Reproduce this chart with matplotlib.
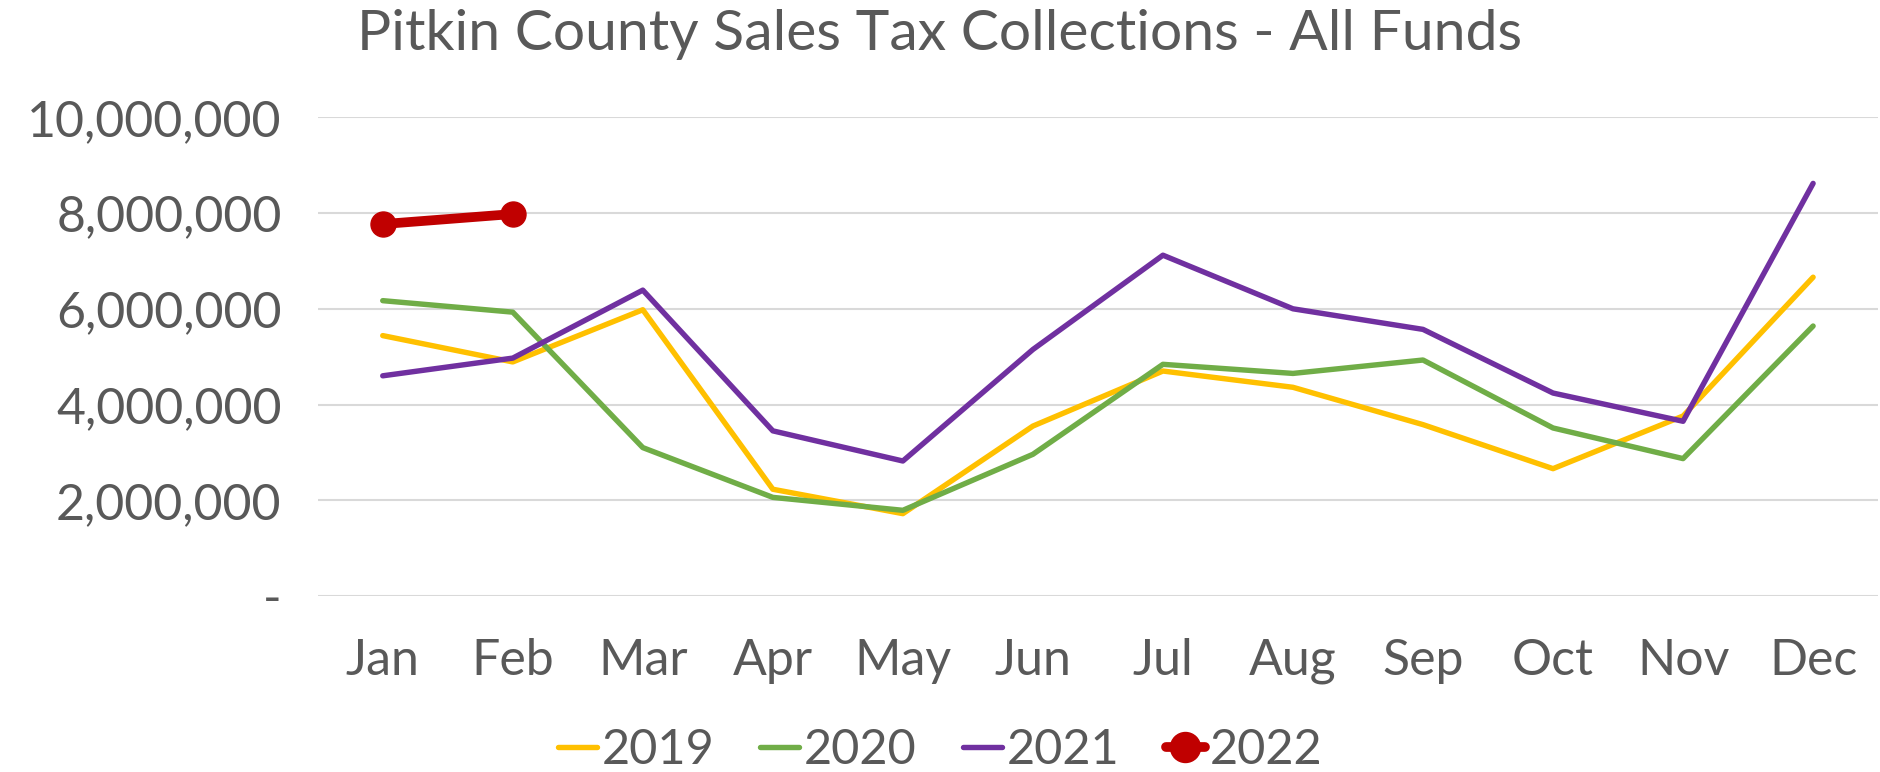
import numpy as np
import matplotlib.pyplot as plt
from matplotlib.ticker import FuncFormatter

months = ['Jan', 'Feb', 'Mar', 'Apr', 'May', 'Jun', 'Jul', 'Aug', 'Sep', 'Oct', 'Nov', 'Dec']
sales_2019 = [5.44e6, 4.89e6, 5.98e6, 2.23e6, 1.72e6, 3.55e6, 4.70e6, 4.36e6, 3.58e6, 2.66e6, 3.76e6, 6.66e6]
sales_2020 = [6.17e6, 5.93e6, 3.10e6, 2.06e6, 1.79e6, 2.96e6, 4.84e6, 4.65e6, 4.93e6, 3.51e6, 2.87e6, 5.64e6]
sales_2021 = [4.60e6, 4.97e6, 6.39e6, 3.45e6, 2.82e6, 5.15e6, 7.12e6, 6.00e6, 5.57e6, 4.24e6, 3.65e6, 8.62e6]
sales_2022 = [7.77e6, 7.98e6]

plt.rcParams['font.family'] = ['Lato', 'DejaVu Sans']
txt = '#595959'

fig = plt.figure(figsize=(18.8, 7.72), dpi=100)
ax = fig.add_axes([0.169, 0.228, 0.830, 0.620])

x = np.arange(len(months))
ax.plot(x, sales_2019, color='#FFC000', lw=3.9, label='2019', solid_capstyle='round')
ax.plot(x, sales_2020, color='#70AD47', lw=3.9, label='2020', solid_capstyle='round')
ax.plot(x, sales_2021, color='#7030A0', lw=3.9, label='2021', solid_capstyle='round')
ax.plot(x[:len(sales_2022)], sales_2022, color='#C00000', lw=7, marker='o', ms=18,
        label='2022', solid_capstyle='round')

ax.set_xlim(-0.5, 11.5)
ax.set_ylim(0, 10e6)
ax.set_yticks(np.arange(0, 10e6 + 1, 2e6))
ax.yaxis.set_major_formatter(FuncFormatter(lambda v, p: '-' if v == 0 else f'{v:,.0f}'))
ax.set_xticks(x)
ax.set_xticklabels(months)
ax.grid(axis='y', color='#D9D9D9', lw=1.5)
ax.set_axisbelow(True)
for s in ax.spines.values():
    s.set_visible(False)
ax.tick_params(length=0, labelsize=36, colors=txt)
ax.tick_params(axis='y', pad=26)
ax.tick_params(axis='x', pad=30)

fig.text(0.5, 0.955, 'Pitkin County Sales Tax Collections - All Funds', ha='center', va='center',
         fontsize=41, color=txt)

fig.legend(loc='center', bbox_to_anchor=(0.5, 0.028), ncol=4, frameon=False, fontsize=35,
           handlelength=0.8, handletextpad=0.1, columnspacing=0.95, labelcolor=txt,
           markerscale=1.2)

fig.savefig('out.png', dpi=100)
